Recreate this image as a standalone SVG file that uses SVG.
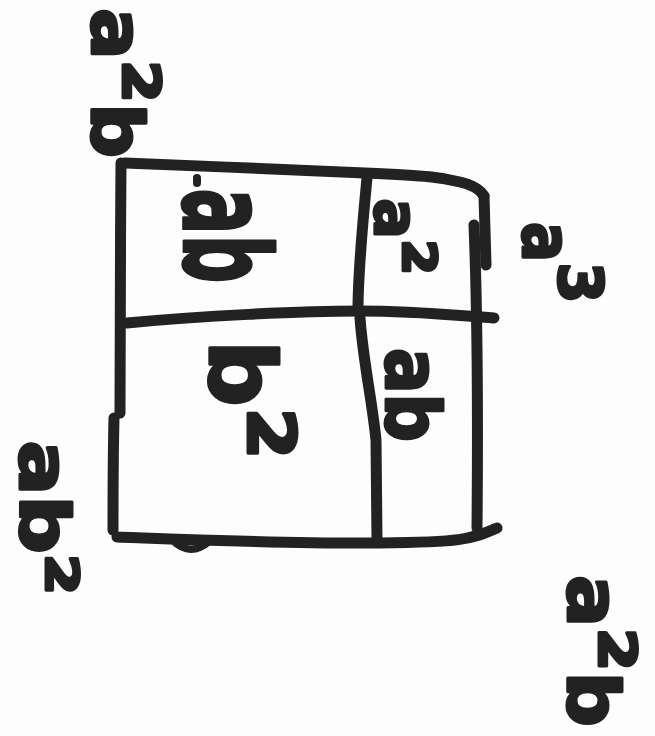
<svg xmlns="http://www.w3.org/2000/svg" width="655" height="736" viewBox="0 0 655 736">
<style>
.ln{fill:none;stroke:#222;stroke-width:11;stroke-linecap:round;stroke-linejoin:round}
.lb{font-family:"DejaVu Sans",sans-serif;font-weight:bold;fill:#222;stroke:#222;stroke-width:3;stroke-linejoin:round}
</style>
<rect width="655" height="736" fill="#fdfdfd"/>
<g id="connectors">
<path class="ln" d="M125,163 C200,166 300,170 365,173 S440,177 460,182 Q478,186 484,196"/>
<path class="ln" d="M484,196 L486,265"/>
<path class="ln" d="M474,225 C477,300 478,420 477,528"/>
<path class="ln" d="M121,163 C120,250 121,350 120,413"/>
<path class="ln" d="M114,418 C113,460 113,500 113,530"/>
<path class="ln" d="M127,323 C200,316 300,311 360,311 S460,316 494,318"/>
<path class="ln" d="M367,178 C363,220 358,270 358,310"/>
<path class="ln" d="M360,318 C363,360 372,400 376,440 L377,540"/>
<path class="ln" d="M117,537 C200,540 300,544 380,543 S470,540 497,528"/>
<path class="ln" style="stroke-width:7" d="M172,540 Q190,558 210,541"/>
<path class="ln" style="stroke-width:8" d="M197,178 L197,183"/>
</g>
<g id="label-top-left">
<text class="lb" font-size="72" text-anchor="middle" textLength="150" lengthAdjust="spacingAndGlyphs" transform="translate(92,83) rotate(90)">a<tspan font-size="94">²</tspan>b</text>
</g>
<g id="label-right">
<text class="lb" font-size="68" text-anchor="middle" textLength="82" lengthAdjust="spacingAndGlyphs" transform="translate(523,263) rotate(90)">a<tspan font-size="110">³</tspan></text>
</g>
<g id="cell-top-left">
<text class="lb" font-size="120" text-anchor="middle" textLength="95" lengthAdjust="spacingAndGlyphs" transform="translate(184,236) rotate(90)">ab</text>
</g>
<g id="cell-top-right">
<text class="lb" font-size="60" text-anchor="middle" textLength="77" lengthAdjust="spacingAndGlyphs" transform="translate(375,237) rotate(90)">a<tspan font-size="84">²</tspan></text>
</g>
<g id="cell-bottom-left">
<text class="lb" font-size="90" text-anchor="middle" textLength="120" lengthAdjust="spacingAndGlyphs" transform="translate(210,400) rotate(90)">b<tspan font-size="117">²</tspan></text>
</g>
<g id="cell-bottom-right">
<text class="lb" font-size="75" text-anchor="middle" textLength="94" lengthAdjust="spacingAndGlyphs" transform="translate(386,395) rotate(90)">ab</text>
</g>
<g id="label-bottom-left">
<text class="lb" font-size="68" text-anchor="middle" textLength="155" lengthAdjust="spacingAndGlyphs" transform="translate(20,518) rotate(90)">ab<tspan font-size="80">²</tspan></text>
</g>
<g id="label-bottom-right">
<text class="lb" font-size="72" text-anchor="middle" textLength="152" lengthAdjust="spacingAndGlyphs" transform="translate(568,651) rotate(90)">a<tspan font-size="94">²</tspan>b</text>
</g>
</svg>
